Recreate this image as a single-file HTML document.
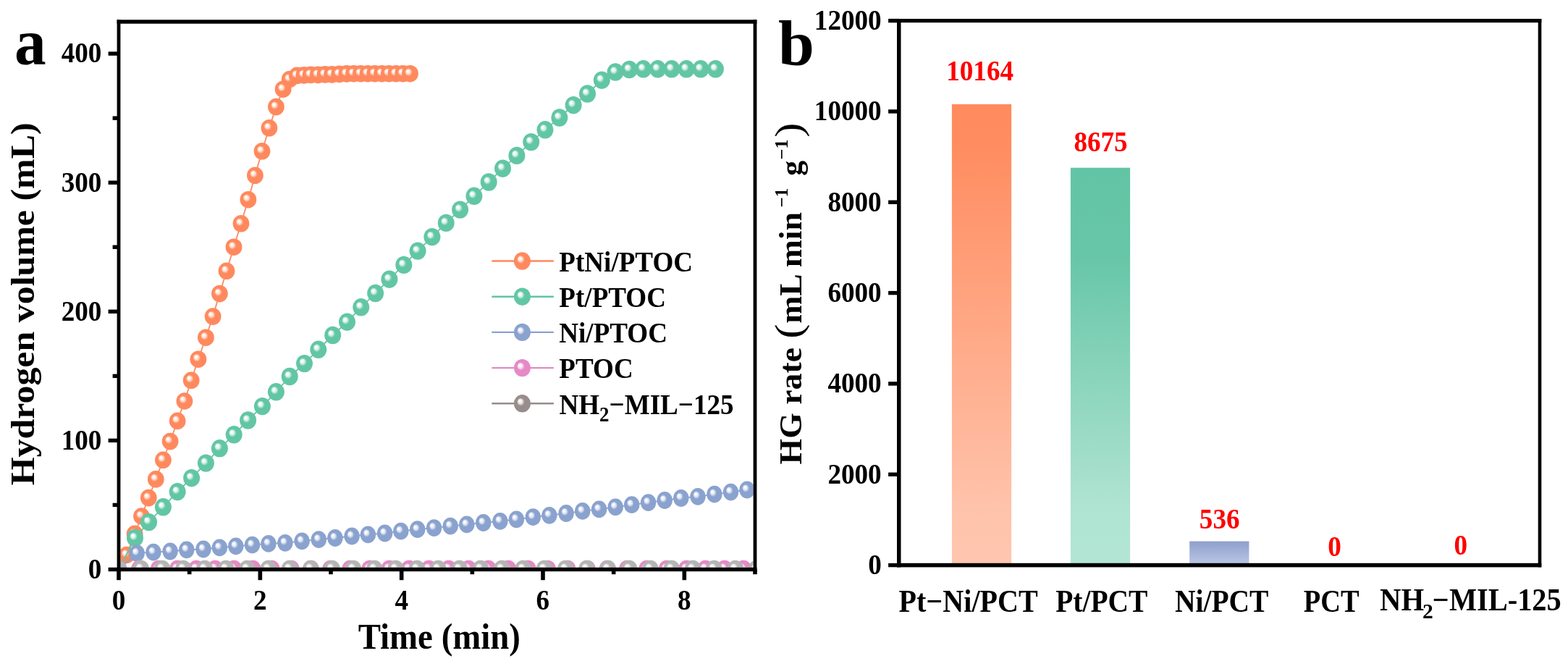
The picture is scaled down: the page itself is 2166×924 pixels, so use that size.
<!DOCTYPE html>
<html><head><meta charset="utf-8"><title>Hydrogen generation</title>
<style>html,body{margin:0;padding:0;background:#fff;overflow:hidden} svg{display:block}</style></head>
<body><svg width="2166" height="924" viewBox="0 0 2166 924" font-family="Liberation Serif, Times New Roman, serif" font-weight="bold"><defs><radialGradient id="mo" cx="0.5" cy="0.5" r="0.5" fx="0.34" fy="0.34">
<stop offset="0" stop-color="#ffffff"/><stop offset="0.07" stop-color="#ffffff"/>
<stop offset="0.27" stop-color="#FFDCCB"/><stop offset="0.46" stop-color="#FF895E"/><stop offset="1" stop-color="#FF895E"/></radialGradient><radialGradient id="mg" cx="0.5" cy="0.5" r="0.5" fx="0.34" fy="0.34">
<stop offset="0" stop-color="#ffffff"/><stop offset="0.07" stop-color="#ffffff"/>
<stop offset="0.27" stop-color="#D2F0E5"/><stop offset="0.46" stop-color="#62C6A5"/><stop offset="1" stop-color="#62C6A5"/></radialGradient><radialGradient id="mb" cx="0.5" cy="0.5" r="0.5" fx="0.34" fy="0.34">
<stop offset="0" stop-color="#ffffff"/><stop offset="0.07" stop-color="#ffffff"/>
<stop offset="0.27" stop-color="#DDE4F3"/><stop offset="0.46" stop-color="#8AA2CE"/><stop offset="1" stop-color="#8AA2CE"/></radialGradient><radialGradient id="mp" cx="0.5" cy="0.5" r="0.5" fx="0.34" fy="0.34">
<stop offset="0" stop-color="#ffffff"/><stop offset="0.07" stop-color="#ffffff"/>
<stop offset="0.27" stop-color="#F8DDF0"/><stop offset="0.46" stop-color="#E58AC6"/><stop offset="1" stop-color="#E58AC6"/></radialGradient><radialGradient id="mk" cx="0.5" cy="0.5" r="0.5" fx="0.34" fy="0.34">
<stop offset="0" stop-color="#ffffff"/><stop offset="0.07" stop-color="#ffffff"/>
<stop offset="0.27" stop-color="#E6DEDE"/><stop offset="0.46" stop-color="#988C8C"/><stop offset="1" stop-color="#988C8C"/></radialGradient><radialGradient id="mK" cx="0.5" cy="0.5" r="0.5" fx="0.34" fy="0.34">
<stop offset="0" stop-color="#ffffff"/><stop offset="0.07" stop-color="#ffffff"/>
<stop offset="0.27" stop-color="#EAEAEA"/><stop offset="0.46" stop-color="#B5B5B5"/><stop offset="1" stop-color="#B5B5B5"/></radialGradient><linearGradient id="bo" x1="0" y1="0" x2="0" y2="1"><stop offset="0" stop-color="#FF8A5D"/><stop offset="0.1" stop-color="#FF8D61"/><stop offset="0.88" stop-color="#FFC3AB"/><stop offset="1" stop-color="#FFC6AF"/></linearGradient>
<linearGradient id="bg" x1="0" y1="0" x2="0" y2="1"><stop offset="0" stop-color="#62C4A4"/><stop offset="0.22" stop-color="#67C6A7"/><stop offset="0.85" stop-color="#AFE3D2"/><stop offset="1" stop-color="#B3E6D5"/></linearGradient>
<linearGradient id="bb" x1="0" y1="0" x2="0" y2="1"><stop offset="0" stop-color="#8E9FCC"/><stop offset="1" stop-color="#BCC8E5"/></linearGradient><clipPath id="clipA"><rect x="166.40" y="32.70" width="874.20" height="751.10"/></clipPath></defs><rect width="2166" height="924" fill="#fff"/><g clip-path="url(#clipA)">
<path d="M164.0,786.5 L175.0,766.5 L186.1,737.4 L195.5,713.0 L205.3,687.6 L215.3,661.9 L225.4,635.3 L235.1,609.6 L245.2,581.4 L254.9,554.0 L264.2,525.3 L273.9,496.2 L284.4,466.2 L294.1,437.1 L303.4,405.6 L313.0,374.3 L323.0,341.2 L333.0,308.8 L342.9,275.7 L352.4,242.3 L362.0,208.8 L371.9,176.8 L381.4,147.6 L391.1,123.2 L400.2,109.5 L410.4,104.4 L420.0,103.9 L429.2,103.4 L439.3,103.4 L449.0,102.9 L458.6,102.9 L468.8,102.4 L478.9,101.9 L488.6,101.7 L498.4,101.7 L508.1,101.7 L517.8,101.7 L527.6,101.7 L537.3,101.7 L547.0,101.7 L556.8,101.7 L566.5,101.7" fill="none" stroke="#FF895E" stroke-width="1.8"/>
<ellipse cx="164.0" cy="786.5" rx="11.4" ry="11.8" fill="url(#mo)"/>
<ellipse cx="175.0" cy="766.5" rx="11.4" ry="11.8" fill="url(#mo)"/>
<ellipse cx="186.1" cy="737.4" rx="11.4" ry="11.8" fill="url(#mo)"/>
<ellipse cx="195.5" cy="713.0" rx="11.4" ry="11.8" fill="url(#mo)"/>
<ellipse cx="205.3" cy="687.6" rx="11.4" ry="11.8" fill="url(#mo)"/>
<ellipse cx="215.3" cy="661.9" rx="11.4" ry="11.8" fill="url(#mo)"/>
<ellipse cx="225.4" cy="635.3" rx="11.4" ry="11.8" fill="url(#mo)"/>
<ellipse cx="235.1" cy="609.6" rx="11.4" ry="11.8" fill="url(#mo)"/>
<ellipse cx="245.2" cy="581.4" rx="11.4" ry="11.8" fill="url(#mo)"/>
<ellipse cx="254.9" cy="554.0" rx="11.4" ry="11.8" fill="url(#mo)"/>
<ellipse cx="264.2" cy="525.3" rx="11.4" ry="11.8" fill="url(#mo)"/>
<ellipse cx="273.9" cy="496.2" rx="11.4" ry="11.8" fill="url(#mo)"/>
<ellipse cx="284.4" cy="466.2" rx="11.4" ry="11.8" fill="url(#mo)"/>
<ellipse cx="294.1" cy="437.1" rx="11.4" ry="11.8" fill="url(#mo)"/>
<ellipse cx="303.4" cy="405.6" rx="11.4" ry="11.8" fill="url(#mo)"/>
<ellipse cx="313.0" cy="374.3" rx="11.4" ry="11.8" fill="url(#mo)"/>
<ellipse cx="323.0" cy="341.2" rx="11.4" ry="11.8" fill="url(#mo)"/>
<ellipse cx="333.0" cy="308.8" rx="11.4" ry="11.8" fill="url(#mo)"/>
<ellipse cx="342.9" cy="275.7" rx="11.4" ry="11.8" fill="url(#mo)"/>
<ellipse cx="352.4" cy="242.3" rx="11.4" ry="11.8" fill="url(#mo)"/>
<ellipse cx="362.0" cy="208.8" rx="11.4" ry="11.8" fill="url(#mo)"/>
<ellipse cx="371.9" cy="176.8" rx="11.4" ry="11.8" fill="url(#mo)"/>
<ellipse cx="381.4" cy="147.6" rx="11.4" ry="11.8" fill="url(#mo)"/>
<ellipse cx="391.1" cy="123.2" rx="11.4" ry="11.8" fill="url(#mo)"/>
<ellipse cx="400.2" cy="109.5" rx="11.4" ry="11.8" fill="url(#mo)"/>
<ellipse cx="410.4" cy="104.4" rx="11.4" ry="11.8" fill="url(#mo)"/>
<ellipse cx="420.0" cy="103.9" rx="11.4" ry="11.8" fill="url(#mo)"/>
<ellipse cx="429.2" cy="103.4" rx="11.4" ry="11.8" fill="url(#mo)"/>
<ellipse cx="439.3" cy="103.4" rx="11.4" ry="11.8" fill="url(#mo)"/>
<ellipse cx="449.0" cy="102.9" rx="11.4" ry="11.8" fill="url(#mo)"/>
<ellipse cx="458.6" cy="102.9" rx="11.4" ry="11.8" fill="url(#mo)"/>
<ellipse cx="468.8" cy="102.4" rx="11.4" ry="11.8" fill="url(#mo)"/>
<ellipse cx="478.9" cy="101.9" rx="11.4" ry="11.8" fill="url(#mo)"/>
<ellipse cx="488.6" cy="101.7" rx="11.4" ry="11.8" fill="url(#mo)"/>
<ellipse cx="498.4" cy="101.7" rx="11.4" ry="11.8" fill="url(#mo)"/>
<ellipse cx="508.1" cy="101.7" rx="11.4" ry="11.8" fill="url(#mo)"/>
<ellipse cx="517.8" cy="101.7" rx="11.4" ry="11.8" fill="url(#mo)"/>
<ellipse cx="527.6" cy="101.7" rx="11.4" ry="11.8" fill="url(#mo)"/>
<ellipse cx="537.3" cy="101.7" rx="11.4" ry="11.8" fill="url(#mo)"/>
<ellipse cx="547.0" cy="101.7" rx="11.4" ry="11.8" fill="url(#mo)"/>
<ellipse cx="556.8" cy="101.7" rx="11.4" ry="11.8" fill="url(#mo)"/>
<ellipse cx="566.5" cy="101.7" rx="11.4" ry="11.8" fill="url(#mo)"/>
<path d="M164.0,786.5 L186.5,743.0 L205.6,721.1 L225.4,700.3 L245.2,679.2 L264.6,660.2 L284.4,639.6 L303.4,619.3 L323.2,600.3 L342.6,580.5 L362.4,561.1 L381.4,541.3 L400.2,520.0 L420.5,502.1 L439.8,482.8 L459.7,463.0 L479.5,444.7 L498.8,424.3 L518.6,405.0 L537.9,385.7 L557.8,365.9 L577.1,346.6 L596.9,327.2 L616.2,307.9 L635.6,289.6 L654.9,270.8 L675.2,251.5 L694.5,232.7 L713.9,214.9 L733.7,196.1 L753.0,179.3 L772.8,162.5 L792.1,145.2 L811.5,129.5 L831.3,110.7 L850.1,99.5 L869.4,96.0 L888.7,95.3 L908.6,95.3 L927.9,95.3 L948.2,95.3 L968.0,95.3 L988.4,95.3" fill="none" stroke="#62C6A5" stroke-width="1.8"/>
<ellipse cx="164.0" cy="786.5" rx="11.5" ry="12.2" fill="url(#mg)"/>
<ellipse cx="186.5" cy="743.0" rx="11.5" ry="12.2" fill="url(#mg)"/>
<ellipse cx="205.6" cy="721.1" rx="11.5" ry="12.2" fill="url(#mg)"/>
<ellipse cx="225.4" cy="700.3" rx="11.5" ry="12.2" fill="url(#mg)"/>
<ellipse cx="245.2" cy="679.2" rx="11.5" ry="12.2" fill="url(#mg)"/>
<ellipse cx="264.6" cy="660.2" rx="11.5" ry="12.2" fill="url(#mg)"/>
<ellipse cx="284.4" cy="639.6" rx="11.5" ry="12.2" fill="url(#mg)"/>
<ellipse cx="303.4" cy="619.3" rx="11.5" ry="12.2" fill="url(#mg)"/>
<ellipse cx="323.2" cy="600.3" rx="11.5" ry="12.2" fill="url(#mg)"/>
<ellipse cx="342.6" cy="580.5" rx="11.5" ry="12.2" fill="url(#mg)"/>
<ellipse cx="362.4" cy="561.1" rx="11.5" ry="12.2" fill="url(#mg)"/>
<ellipse cx="381.4" cy="541.3" rx="11.5" ry="12.2" fill="url(#mg)"/>
<ellipse cx="400.2" cy="520.0" rx="11.5" ry="12.2" fill="url(#mg)"/>
<ellipse cx="420.5" cy="502.1" rx="11.5" ry="12.2" fill="url(#mg)"/>
<ellipse cx="439.8" cy="482.8" rx="11.5" ry="12.2" fill="url(#mg)"/>
<ellipse cx="459.7" cy="463.0" rx="11.5" ry="12.2" fill="url(#mg)"/>
<ellipse cx="479.5" cy="444.7" rx="11.5" ry="12.2" fill="url(#mg)"/>
<ellipse cx="498.8" cy="424.3" rx="11.5" ry="12.2" fill="url(#mg)"/>
<ellipse cx="518.6" cy="405.0" rx="11.5" ry="12.2" fill="url(#mg)"/>
<ellipse cx="537.9" cy="385.7" rx="11.5" ry="12.2" fill="url(#mg)"/>
<ellipse cx="557.8" cy="365.9" rx="11.5" ry="12.2" fill="url(#mg)"/>
<ellipse cx="577.1" cy="346.6" rx="11.5" ry="12.2" fill="url(#mg)"/>
<ellipse cx="596.9" cy="327.2" rx="11.5" ry="12.2" fill="url(#mg)"/>
<ellipse cx="616.2" cy="307.9" rx="11.5" ry="12.2" fill="url(#mg)"/>
<ellipse cx="635.6" cy="289.6" rx="11.5" ry="12.2" fill="url(#mg)"/>
<ellipse cx="654.9" cy="270.8" rx="11.5" ry="12.2" fill="url(#mg)"/>
<ellipse cx="675.2" cy="251.5" rx="11.5" ry="12.2" fill="url(#mg)"/>
<ellipse cx="694.5" cy="232.7" rx="11.5" ry="12.2" fill="url(#mg)"/>
<ellipse cx="713.9" cy="214.9" rx="11.5" ry="12.2" fill="url(#mg)"/>
<ellipse cx="733.7" cy="196.1" rx="11.5" ry="12.2" fill="url(#mg)"/>
<ellipse cx="753.0" cy="179.3" rx="11.5" ry="12.2" fill="url(#mg)"/>
<ellipse cx="772.8" cy="162.5" rx="11.5" ry="12.2" fill="url(#mg)"/>
<ellipse cx="792.1" cy="145.2" rx="11.5" ry="12.2" fill="url(#mg)"/>
<ellipse cx="811.5" cy="129.5" rx="11.5" ry="12.2" fill="url(#mg)"/>
<ellipse cx="831.3" cy="110.7" rx="11.5" ry="12.2" fill="url(#mg)"/>
<ellipse cx="850.1" cy="99.5" rx="11.5" ry="12.2" fill="url(#mg)"/>
<ellipse cx="869.4" cy="96.0" rx="11.5" ry="12.2" fill="url(#mg)"/>
<ellipse cx="888.7" cy="95.3" rx="11.5" ry="12.2" fill="url(#mg)"/>
<ellipse cx="908.6" cy="95.3" rx="11.5" ry="12.2" fill="url(#mg)"/>
<ellipse cx="927.9" cy="95.3" rx="11.5" ry="12.2" fill="url(#mg)"/>
<ellipse cx="948.2" cy="95.3" rx="11.5" ry="12.2" fill="url(#mg)"/>
<ellipse cx="968.0" cy="95.3" rx="11.5" ry="12.2" fill="url(#mg)"/>
<ellipse cx="988.4" cy="95.3" rx="11.5" ry="12.2" fill="url(#mg)"/>
<path d="M164.0,786.5 L189.2,764.1 L211.9,762.7 L235.1,761.5 L257.8,759.3 L281.0,758.5 L303.4,756.4 L325.8,754.3 L348.5,752.6 L370.9,750.9 L393.9,749.8 L417.1,747.3 L440.3,745.2 L462.9,743.0 L486.1,740.5 L508.4,738.4 L531.6,736.5 L553.8,733.7 L576.7,731.2 L599.6,729.1 L622.2,726.6 L644.8,724.4 L667.7,722.0 L690.9,719.8 L713.4,717.3 L736.3,714.2 L758.9,711.8 L782.1,709.0 L804.7,705.9 L827.6,703.4 L850.2,700.3 L872.7,697.2 L895.6,694.1 L918.2,691.0 L940.8,688.0 L964.0,685.8 L986.9,682.7 L1009.5,679.6 L1032.0,676.5" fill="none" stroke="#8AA2CE" stroke-width="1.8"/>
<ellipse cx="164.0" cy="786.5" rx="10.7" ry="11.9" fill="url(#mb)"/>
<ellipse cx="189.2" cy="764.1" rx="10.7" ry="11.9" fill="url(#mb)"/>
<ellipse cx="211.9" cy="762.7" rx="10.7" ry="11.9" fill="url(#mb)"/>
<ellipse cx="235.1" cy="761.5" rx="10.7" ry="11.9" fill="url(#mb)"/>
<ellipse cx="257.8" cy="759.3" rx="10.7" ry="11.9" fill="url(#mb)"/>
<ellipse cx="281.0" cy="758.5" rx="10.7" ry="11.9" fill="url(#mb)"/>
<ellipse cx="303.4" cy="756.4" rx="10.7" ry="11.9" fill="url(#mb)"/>
<ellipse cx="325.8" cy="754.3" rx="10.7" ry="11.9" fill="url(#mb)"/>
<ellipse cx="348.5" cy="752.6" rx="10.7" ry="11.9" fill="url(#mb)"/>
<ellipse cx="370.9" cy="750.9" rx="10.7" ry="11.9" fill="url(#mb)"/>
<ellipse cx="393.9" cy="749.8" rx="10.7" ry="11.9" fill="url(#mb)"/>
<ellipse cx="417.1" cy="747.3" rx="10.7" ry="11.9" fill="url(#mb)"/>
<ellipse cx="440.3" cy="745.2" rx="10.7" ry="11.9" fill="url(#mb)"/>
<ellipse cx="462.9" cy="743.0" rx="10.7" ry="11.9" fill="url(#mb)"/>
<ellipse cx="486.1" cy="740.5" rx="10.7" ry="11.9" fill="url(#mb)"/>
<ellipse cx="508.4" cy="738.4" rx="10.7" ry="11.9" fill="url(#mb)"/>
<ellipse cx="531.6" cy="736.5" rx="10.7" ry="11.9" fill="url(#mb)"/>
<ellipse cx="553.8" cy="733.7" rx="10.7" ry="11.9" fill="url(#mb)"/>
<ellipse cx="576.7" cy="731.2" rx="10.7" ry="11.9" fill="url(#mb)"/>
<ellipse cx="599.6" cy="729.1" rx="10.7" ry="11.9" fill="url(#mb)"/>
<ellipse cx="622.2" cy="726.6" rx="10.7" ry="11.9" fill="url(#mb)"/>
<ellipse cx="644.8" cy="724.4" rx="10.7" ry="11.9" fill="url(#mb)"/>
<ellipse cx="667.7" cy="722.0" rx="10.7" ry="11.9" fill="url(#mb)"/>
<ellipse cx="690.9" cy="719.8" rx="10.7" ry="11.9" fill="url(#mb)"/>
<ellipse cx="713.4" cy="717.3" rx="10.7" ry="11.9" fill="url(#mb)"/>
<ellipse cx="736.3" cy="714.2" rx="10.7" ry="11.9" fill="url(#mb)"/>
<ellipse cx="758.9" cy="711.8" rx="10.7" ry="11.9" fill="url(#mb)"/>
<ellipse cx="782.1" cy="709.0" rx="10.7" ry="11.9" fill="url(#mb)"/>
<ellipse cx="804.7" cy="705.9" rx="10.7" ry="11.9" fill="url(#mb)"/>
<ellipse cx="827.6" cy="703.4" rx="10.7" ry="11.9" fill="url(#mb)"/>
<ellipse cx="850.2" cy="700.3" rx="10.7" ry="11.9" fill="url(#mb)"/>
<ellipse cx="872.7" cy="697.2" rx="10.7" ry="11.9" fill="url(#mb)"/>
<ellipse cx="895.6" cy="694.1" rx="10.7" ry="11.9" fill="url(#mb)"/>
<ellipse cx="918.2" cy="691.0" rx="10.7" ry="11.9" fill="url(#mb)"/>
<ellipse cx="940.8" cy="688.0" rx="10.7" ry="11.9" fill="url(#mb)"/>
<ellipse cx="964.0" cy="685.8" rx="10.7" ry="11.9" fill="url(#mb)"/>
<ellipse cx="986.9" cy="682.7" rx="10.7" ry="11.9" fill="url(#mb)"/>
<ellipse cx="1009.5" cy="679.6" rx="10.7" ry="11.9" fill="url(#mb)"/>
<ellipse cx="1032.0" cy="676.5" rx="10.7" ry="11.9" fill="url(#mb)"/>
<path d="M164.0,786.5 L192.4,785.5 L219.1,785.5 L245.1,785.5 L271.2,785.5 L297.2,785.5 L323.2,785.5 L349.3,785.5 L375.3,785.5 L402.4,785.5 L429.4,785.5 L456.5,785.5 L483.6,785.5 L510.6,785.5 L537.7,785.5 L565.1,785.5 L592.5,785.5 L619.8,785.5 L647.2,785.5 L674.6,785.5 L702.0,785.5 L729.4,785.5 L756.7,785.5 L784.1,785.5 L811.5,785.5 L838.9,785.5 L866.3,785.5 L893.6,785.5 L921.0,785.5 L948.4,785.5 L974.6,785.5 L1000.8,785.5 L1027.0,785.5" fill="none" stroke="#E58AC6" stroke-width="1.8"/>
<ellipse cx="164.0" cy="786.5" rx="11.4" ry="11.8" fill="url(#mp)"/>
<ellipse cx="192.4" cy="785.5" rx="11.4" ry="11.8" fill="url(#mp)"/>
<ellipse cx="219.1" cy="785.5" rx="11.4" ry="11.8" fill="url(#mp)"/>
<ellipse cx="245.1" cy="785.5" rx="11.4" ry="11.8" fill="url(#mp)"/>
<ellipse cx="271.2" cy="785.5" rx="11.4" ry="11.8" fill="url(#mp)"/>
<ellipse cx="297.2" cy="785.5" rx="11.4" ry="11.8" fill="url(#mp)"/>
<ellipse cx="323.2" cy="785.5" rx="11.4" ry="11.8" fill="url(#mp)"/>
<ellipse cx="349.3" cy="785.5" rx="11.4" ry="11.8" fill="url(#mp)"/>
<ellipse cx="375.3" cy="785.5" rx="11.4" ry="11.8" fill="url(#mp)"/>
<ellipse cx="402.4" cy="785.5" rx="11.4" ry="11.8" fill="url(#mp)"/>
<ellipse cx="429.4" cy="785.5" rx="11.4" ry="11.8" fill="url(#mp)"/>
<ellipse cx="456.5" cy="785.5" rx="11.4" ry="11.8" fill="url(#mp)"/>
<ellipse cx="483.6" cy="785.5" rx="11.4" ry="11.8" fill="url(#mp)"/>
<ellipse cx="510.6" cy="785.5" rx="11.4" ry="11.8" fill="url(#mp)"/>
<ellipse cx="537.7" cy="785.5" rx="11.4" ry="11.8" fill="url(#mp)"/>
<ellipse cx="565.1" cy="785.5" rx="11.4" ry="11.8" fill="url(#mp)"/>
<ellipse cx="592.5" cy="785.5" rx="11.4" ry="11.8" fill="url(#mp)"/>
<ellipse cx="619.8" cy="785.5" rx="11.4" ry="11.8" fill="url(#mp)"/>
<ellipse cx="647.2" cy="785.5" rx="11.4" ry="11.8" fill="url(#mp)"/>
<ellipse cx="674.6" cy="785.5" rx="11.4" ry="11.8" fill="url(#mp)"/>
<ellipse cx="702.0" cy="785.5" rx="11.4" ry="11.8" fill="url(#mp)"/>
<ellipse cx="729.4" cy="785.5" rx="11.4" ry="11.8" fill="url(#mp)"/>
<ellipse cx="756.7" cy="785.5" rx="11.4" ry="11.8" fill="url(#mp)"/>
<ellipse cx="784.1" cy="785.5" rx="11.4" ry="11.8" fill="url(#mp)"/>
<ellipse cx="811.5" cy="785.5" rx="11.4" ry="11.8" fill="url(#mp)"/>
<ellipse cx="838.9" cy="785.5" rx="11.4" ry="11.8" fill="url(#mp)"/>
<ellipse cx="866.3" cy="785.5" rx="11.4" ry="11.8" fill="url(#mp)"/>
<ellipse cx="893.6" cy="785.5" rx="11.4" ry="11.8" fill="url(#mp)"/>
<ellipse cx="921.0" cy="785.5" rx="11.4" ry="11.8" fill="url(#mp)"/>
<ellipse cx="948.4" cy="785.5" rx="11.4" ry="11.8" fill="url(#mp)"/>
<ellipse cx="974.6" cy="785.5" rx="11.4" ry="11.8" fill="url(#mp)"/>
<ellipse cx="1000.8" cy="785.5" rx="11.4" ry="11.8" fill="url(#mp)"/>
<ellipse cx="1027.0" cy="785.5" rx="11.4" ry="11.8" fill="url(#mp)"/>
<path d="M164.0,786.5 L194.8,785.5 L224.1,785.5 L253.4,785.5 L282.8,785.5 L312.1,785.5 L341.4,785.5 L370.7,785.5 L400.0,785.5 L429.4,785.5 L458.7,785.5 L488.0,785.5 L517.3,785.5 L546.6,785.5 L576.0,785.5 L605.3,785.5 L634.6,785.5 L663.9,785.5 L693.2,785.5 L722.6,785.5 L751.9,785.5 L781.2,785.5 L810.5,785.5 L839.8,785.5 L869.2,785.5 L898.5,785.5 L927.8,785.5 L957.1,785.5 L986.4,785.5 L1015.8,785.5 L1045.1,785.5" fill="none" stroke="#B5B5B5" stroke-width="1.8"/>
<ellipse cx="164.0" cy="786.5" rx="11.4" ry="11.8" fill="url(#mK)"/>
<ellipse cx="194.8" cy="785.5" rx="11.4" ry="11.8" fill="url(#mK)"/>
<ellipse cx="224.1" cy="785.5" rx="11.4" ry="11.8" fill="url(#mK)"/>
<ellipse cx="253.4" cy="785.5" rx="11.4" ry="11.8" fill="url(#mK)"/>
<ellipse cx="282.8" cy="785.5" rx="11.4" ry="11.8" fill="url(#mK)"/>
<ellipse cx="312.1" cy="785.5" rx="11.4" ry="11.8" fill="url(#mK)"/>
<ellipse cx="341.4" cy="785.5" rx="11.4" ry="11.8" fill="url(#mK)"/>
<ellipse cx="370.7" cy="785.5" rx="11.4" ry="11.8" fill="url(#mK)"/>
<ellipse cx="400.0" cy="785.5" rx="11.4" ry="11.8" fill="url(#mK)"/>
<ellipse cx="429.4" cy="785.5" rx="11.4" ry="11.8" fill="url(#mK)"/>
<ellipse cx="458.7" cy="785.5" rx="11.4" ry="11.8" fill="url(#mK)"/>
<ellipse cx="488.0" cy="785.5" rx="11.4" ry="11.8" fill="url(#mK)"/>
<ellipse cx="517.3" cy="785.5" rx="11.4" ry="11.8" fill="url(#mK)"/>
<ellipse cx="546.6" cy="785.5" rx="11.4" ry="11.8" fill="url(#mK)"/>
<ellipse cx="576.0" cy="785.5" rx="11.4" ry="11.8" fill="url(#mK)"/>
<ellipse cx="605.3" cy="785.5" rx="11.4" ry="11.8" fill="url(#mK)"/>
<ellipse cx="634.6" cy="785.5" rx="11.4" ry="11.8" fill="url(#mK)"/>
<ellipse cx="663.9" cy="785.5" rx="11.4" ry="11.8" fill="url(#mK)"/>
<ellipse cx="693.2" cy="785.5" rx="11.4" ry="11.8" fill="url(#mK)"/>
<ellipse cx="722.6" cy="785.5" rx="11.4" ry="11.8" fill="url(#mK)"/>
<ellipse cx="751.9" cy="785.5" rx="11.4" ry="11.8" fill="url(#mK)"/>
<ellipse cx="781.2" cy="785.5" rx="11.4" ry="11.8" fill="url(#mK)"/>
<ellipse cx="810.5" cy="785.5" rx="11.4" ry="11.8" fill="url(#mK)"/>
<ellipse cx="839.8" cy="785.5" rx="11.4" ry="11.8" fill="url(#mK)"/>
<ellipse cx="869.2" cy="785.5" rx="11.4" ry="11.8" fill="url(#mK)"/>
<ellipse cx="898.5" cy="785.5" rx="11.4" ry="11.8" fill="url(#mK)"/>
<ellipse cx="927.8" cy="785.5" rx="11.4" ry="11.8" fill="url(#mK)"/>
<ellipse cx="957.1" cy="785.5" rx="11.4" ry="11.8" fill="url(#mK)"/>
<ellipse cx="986.4" cy="785.5" rx="11.4" ry="11.8" fill="url(#mK)"/>
<ellipse cx="1015.8" cy="785.5" rx="11.4" ry="11.8" fill="url(#mK)"/>
<ellipse cx="1045.1" cy="785.5" rx="11.4" ry="11.8" fill="url(#mK)"/>
</g>
<rect x="161.60" y="27.30" width="883.80" height="5.40" fill="#000"/>
<rect x="161.60" y="783.80" width="883.80" height="5.40" fill="#000"/>
<rect x="161.60" y="27.30" width="4.80" height="761.90" fill="#000"/>
<rect x="1040.60" y="27.30" width="4.80" height="761.90" fill="#000"/>
<rect x="149.60" y="783.80" width="14.40" height="5.40" fill="#000"/>
<rect x="155.60" y="694.75" width="8.40" height="5.40" fill="#000"/>
<rect x="149.60" y="605.70" width="14.40" height="5.40" fill="#000"/>
<rect x="155.60" y="516.65" width="8.40" height="5.40" fill="#000"/>
<rect x="149.60" y="427.60" width="14.40" height="5.40" fill="#000"/>
<rect x="155.60" y="338.55" width="8.40" height="5.40" fill="#000"/>
<rect x="149.60" y="249.50" width="14.40" height="5.40" fill="#000"/>
<rect x="155.60" y="160.45" width="8.40" height="5.40" fill="#000"/>
<rect x="149.60" y="71.40" width="14.40" height="5.40" fill="#000"/>
<rect x="161.20" y="786.50" width="5.60" height="14.70" fill="#000"/>
<rect x="258.87" y="786.50" width="5.60" height="6.70" fill="#000"/>
<rect x="356.53" y="786.50" width="5.60" height="14.70" fill="#000"/>
<rect x="454.20" y="786.50" width="5.60" height="6.70" fill="#000"/>
<rect x="551.87" y="786.50" width="5.60" height="14.70" fill="#000"/>
<rect x="649.53" y="786.50" width="5.60" height="6.70" fill="#000"/>
<rect x="747.20" y="786.50" width="5.60" height="14.70" fill="#000"/>
<rect x="844.87" y="786.50" width="5.60" height="6.70" fill="#000"/>
<rect x="942.53" y="786.50" width="5.60" height="14.70" fill="#000"/>
<rect x="1040.20" y="786.50" width="5.60" height="6.70" fill="#000"/>
<text transform="translate(121.84,798.80) scale(0.9380,1)" font-size="39.6" fill="#000" >0</text>
<text transform="translate(84.70,620.70) scale(0.9380,1)" font-size="39.6" fill="#000" >100</text>
<text transform="translate(84.70,442.60) scale(0.9380,1)" font-size="39.6" fill="#000" >200</text>
<text transform="translate(84.70,264.50) scale(0.9380,1)" font-size="39.6" fill="#000" >300</text>
<text transform="translate(84.70,86.40) scale(0.9380,1)" font-size="39.6" fill="#000" >400</text>
<text transform="translate(154.71,842.40) scale(0.9380,1)" font-size="39.6" fill="#000" >0</text>
<text transform="translate(350.07,842.40) scale(0.9380,1)" font-size="39.6" fill="#000" >2</text>
<text transform="translate(545.47,842.40) scale(0.9380,1)" font-size="39.6" fill="#000" >4</text>
<text transform="translate(740.62,842.40) scale(0.9380,1)" font-size="39.6" fill="#000" >6</text>
<text transform="translate(936.05,842.40) scale(0.9380,1)" font-size="39.6" fill="#000" >8</text>
<text transform="translate(19.88,89.00) scale(0.9600,1)" font-size="91" fill="#000" >a</text>
<text transform="translate(494.67,895.50) scale(0.9280,1)" font-size="50.5" fill="#000" >Time (min)</text>
<text transform="translate(47.00,670.35) rotate(-90) scale(1.0924,1)" font-size="45.7" fill="#000">Hydrogen volume (mL)</text>
<line x1="679.3" y1="360.5" x2="764.9" y2="360.5" stroke="#FF895E" stroke-width="2.4"/>
<ellipse cx="721.4" cy="360.5" rx="11.5" ry="12.2" fill="url(#mo)"/>
<text transform="translate(772.37,374.80) scale(0.9270,1)" font-size="40" fill="#000" >PtNi/PTOC</text>
<line x1="679.3" y1="409.7" x2="764.9" y2="409.7" stroke="#62C6A5" stroke-width="2.4"/>
<ellipse cx="721.4" cy="409.7" rx="11.5" ry="12.2" fill="url(#mg)"/>
<text transform="translate(772.37,424.00) scale(0.9270,1)" font-size="40" fill="#000" >Pt/PTOC</text>
<line x1="679.3" y1="458.9" x2="764.9" y2="458.9" stroke="#8AA2CE" stroke-width="2.4"/>
<ellipse cx="721.4" cy="458.9" rx="11.5" ry="12.2" fill="url(#mb)"/>
<text transform="translate(772.29,473.20) scale(0.9270,1)" font-size="40" fill="#000" >Ni/PTOC</text>
<line x1="679.3" y1="508.1" x2="764.9" y2="508.1" stroke="#E58AC6" stroke-width="2.4"/>
<ellipse cx="721.4" cy="508.1" rx="11.5" ry="12.2" fill="url(#mp)"/>
<text transform="translate(772.37,522.40) scale(0.9270,1)" font-size="40" fill="#000" >PTOC</text>
<line x1="679.3" y1="557.3" x2="764.9" y2="557.3" stroke="#988C8C" stroke-width="2.4"/>
<ellipse cx="721.4" cy="557.3" rx="11.5" ry="12.2" fill="url(#mk)"/>
<text transform="translate(772.50,571.60) scale(0.927,1)" font-size="40" fill="#000">NH<tspan font-size="29" dy="10.5">2</tspan><tspan dy="-10.5">−MIL−125</tspan></text>
<rect x="1314.9" y="144.00" width="82.20" height="636.60" fill="url(#bo)"/>
<rect x="1478.9" y="231.70" width="82.20" height="548.90" fill="url(#bg)"/>
<rect x="1643.2" y="747.60" width="82.20" height="33.00" fill="url(#bb)"/>
<rect x="1239.00" y="26.00" width="890.30" height="5.20" fill="#000"/>
<rect x="1239.00" y="777.80" width="890.30" height="5.60" fill="#000"/>
<rect x="1239.00" y="26.00" width="5.50" height="757.40" fill="#000"/>
<rect x="2124.70" y="26.00" width="4.60" height="757.40" fill="#000"/>
<rect x="1227.10" y="777.90" width="14.65" height="5.40" fill="#000"/>
<text transform="translate(1199.14,792.90) scale(0.9380,1)" font-size="39.6" fill="#000" >0</text>
<rect x="1227.10" y="652.57" width="14.65" height="5.40" fill="#000"/>
<text transform="translate(1143.43,667.57) scale(0.9380,1)" font-size="39.6" fill="#000" >2000</text>
<rect x="1227.10" y="527.23" width="14.65" height="5.40" fill="#000"/>
<text transform="translate(1143.43,542.23) scale(0.9380,1)" font-size="39.6" fill="#000" >4000</text>
<rect x="1227.10" y="401.90" width="14.65" height="5.40" fill="#000"/>
<text transform="translate(1143.43,416.90) scale(0.9380,1)" font-size="39.6" fill="#000" >6000</text>
<rect x="1227.10" y="276.57" width="14.65" height="5.40" fill="#000"/>
<text transform="translate(1143.43,291.57) scale(0.9380,1)" font-size="39.6" fill="#000" >8000</text>
<rect x="1227.10" y="151.23" width="14.65" height="5.40" fill="#000"/>
<text transform="translate(1124.85,166.23) scale(0.9380,1)" font-size="39.6" fill="#000" >10000</text>
<rect x="1227.10" y="25.90" width="14.65" height="5.40" fill="#000"/>
<text transform="translate(1124.85,40.90) scale(0.9380,1)" font-size="39.6" fill="#000" >12000</text>
<text transform="translate(1074.96,89.70) scale(1.0200,1)" font-size="88" fill="#000" >b</text>
<text transform="translate(1307.23,110.91) scale(0.9380,1)" font-size="39.6" fill="#FF0000" >10164</text>
<text transform="translate(1483.42,208.91) scale(0.9380,1)" font-size="39.6" fill="#FF0000" >8675</text>
<text transform="translate(1656.84,729.51) scale(0.9380,1)" font-size="39.6" fill="#FF0000" >536</text>
<text transform="translate(1834.21,767.81) scale(0.9380,1)" font-size="39.6" fill="#FF0000" >0</text>
<text transform="translate(2008.41,765.81) scale(0.9380,1)" font-size="39.6" fill="#FF0000" >0</text>
<text transform="translate(1241.61,844.90) scale(0.9200,1)" font-size="43.6" fill="#000" >Pt−Ni/PCT</text>
<text transform="translate(1458.23,845.10) scale(0.9050,1)" font-size="43.6" fill="#000" >Pt/PCT</text>
<text transform="translate(1623.05,845.10) scale(0.9050,1)" font-size="43.6" fill="#000" >Ni/PCT</text>
<text transform="translate(1800.84,845.10) scale(0.8800,1)" font-size="43.6" fill="#000" >PCT</text>
<text transform="translate(1906.02,843.00) scale(0.9340,1)" font-size="43.6" fill="#000" >NH</text>
<text transform="translate(1965.06,854.00) scale(0.9700,1)" font-size="30.5" fill="#000" >2</text>
<text transform="translate(1978.87,843.00) scale(0.9270,1)" font-size="43.6" fill="#000" >−MIL-125</text>
<text transform="translate(1107.40,641.38) rotate(-90) scale(1.0400,1)" font-size="44" fill="#000" >HG rate</text>
<text transform="translate(1107.40,467.78) rotate(-90) scale(1.1500,1)" font-size="53" fill="#000" font-weight="normal">(</text>
<text transform="translate(1107.40,446.83) rotate(-90) scale(1.0400,1)" font-size="44" fill="#000" >mL min</text>
<text transform="translate(1087.50,286.52) rotate(-90) scale(1.0000,1)" font-size="25" fill="#000" >−1</text>
<text transform="translate(1107.40,242.71) rotate(-90) scale(1.0000,1)" font-size="42" fill="#000" >g</text>
<text transform="translate(1087.50,220.48) rotate(-90) scale(1.0500,1)" font-size="25" fill="#000" >−1</text>
<text transform="translate(1107.40,189.66) rotate(-90) scale(1.1500,1)" font-size="53" fill="#000" font-weight="normal">)</text></svg></body></html>
